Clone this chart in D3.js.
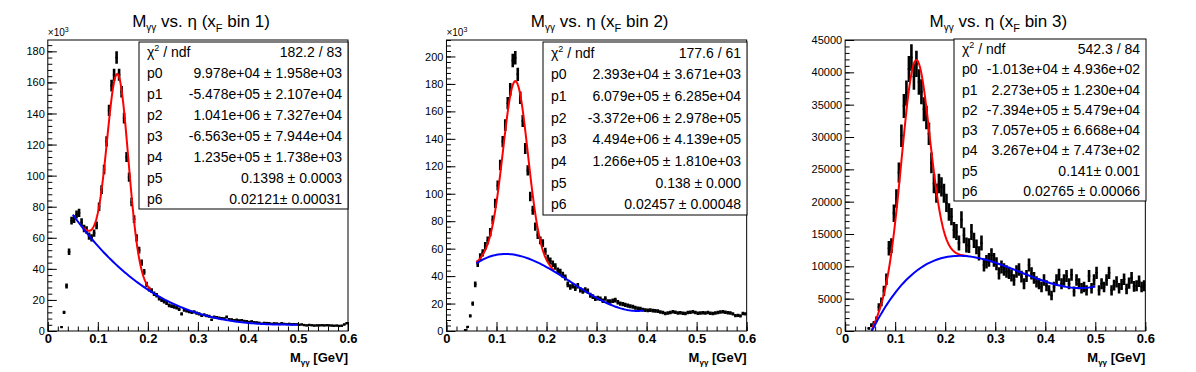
<!DOCTYPE html>
<html>
<head>
<meta charset="utf-8">
<script src="https://cdn.jsdelivr.net/npm/d3@7"></script>
<style>
  body { margin: 0; background: #fff; }
  svg { display: block; }
  text { font-family: "Liberation Sans", Arial, Helvetica, sans-serif; }
</style>
</head>
<body>
<svg id="canvas" width="1196" height="372"></svg>
<script>
// 120 bins of 0.005 GeV between 0 and 0.6
var binWidth = 0.005;
var xRange = [0, 0.6];

// bin contents, panel 1 and 2 in units of 10^3
var counts1 = [
  0, 0, 0, 0, 0, 2.5, 12, 29, 51, 71,
  72, 75, 76, 70, 66, 65, 61, 60, 63, 68,
  80, 91, 104, 122, 142, 158, 165, 176, 165, 154,
  137, 112, 99, 83, 72, 60, 52, 44, 38, 30,
  27, 26, 24, 23, 21, 20, 19, 18, 16.5, 16,
  15.5, 15, 14, 11, 13.5, 13, 12.5, 12, 12.3, 11.5,
  11, 10, 10.5, 9.8, 9.5, 7.3, 9, 8.8, 8.5, 8.2,
  8, 9, 7.5, 7.4, 7, 7.2, 6.8, 6.9, 6.5, 6.3,
  5.8, 6.2, 5.6, 5.5, 5.3, 4.7, 5.2, 5.1, 5.0, 4.6,
  4.9, 4.8, 4.5, 5.0, 4.6, 4.4, 4.6, 4.3, 4.4, 4.3,
  4.0, 4.2, 3.8, 3.6, 3.9, 3.7, 3.5, 3.6, 3.6, 3.7,
  3.6, 3.7, 3.6, 3.5, 3.4, 3.5, 3.3, 3.4, 4.2, 5.0
];
var counts2 = [
  0, 0, 0, 0, 0, 0, 0, 0.5, 3, 11,
  20, 34, 49, 54, 57, 62, 66, 72, 81, 93,
  106, 121, 138, 150, 166, 176, 197, 199, 187, 170,
  153, 133, 117, 98, 88, 76, 70, 66, 64, 58,
  53, 51, 49, 47, 44, 43, 41, 39, 34, 32,
  33, 31, 33, 30, 29, 30, 29, 26, 25, 23.5,
  24, 23.5, 22, 23.7, 21.5, 21.5, 22, 22.5, 21, 20,
  19.5, 19, 18.5, 18, 17.7, 17, 16.5, 16.3, 15.5, 15.2,
  15, 15.2, 14.8, 14.7, 14.5, 13.8, 13.5, 12.8, 13.2, 13.5,
  14, 13.6, 13.2, 13.3, 13, 12.8, 13.4, 13.6, 14, 13.5,
  13, 13.2, 13.3, 13.1, 13.4, 13, 12.8, 13.2, 13.5, 13.8,
  14, 13.6, 13.3, 13.2, 12.5, 11.2, 11.4, 11, 12.8, 12.5
];
var counts3 = [
  0, 0, 0, 0, 0, 0, 0, 0, 0, 400,
  900, 1200, 1800, 3700, 4500, 6200, 8000, 12800, 13200, 18200,
  20500, 24500, 30200, 34800, 36800, 40500, 42300, 39300, 41300, 38500,
  37000, 34300, 33000, 30500, 26000, 22800, 21300, 22800, 22300, 21300,
  19800, 18400, 17700, 15600, 15300, 13600, 17200, 14800, 13300, 13200,
  15300, 14000, 13000, 12000, 13600, 10200, 10700, 11000, 11700, 11000,
  10400, 8900, 9900, 9500, 9200, 9000, 8600, 7900, 9200, 9500,
  8400, 7300, 8500, 10200, 8900, 8200, 7600, 7300, 6800, 7900,
  7000, 6300, 5500, 6800, 7900, 8700, 7300, 7900, 8500, 7300,
  8700, 6100, 7900, 7300, 6600, 6800, 6300, 8500, 6600, 7900,
  9000, 6300, 7300, 6800, 7900, 9000, 6300, 7100, 7600, 6600,
  7200, 8000, 6500, 7400, 8200, 6900, 7000, 7700, 6800, 7000
];

// fit parameters p0..p6 (pol3 background + gaussian p4,p5,p6)
var params1 = [9.978e4, -5.478e5, 1.041e6, -6.563e5, 1.235e5, 0.1398, 0.02121];
var params2 = [2.393e4, 6.079e5, -3.372e6, 4.494e6, 1.266e5, 0.138, 0.02457];
var params3 = [-1.013e4, 2.273e5, -7.394e5, 7.057e5, 3.267e4, 0.141, 0.02765];

// ranges where the total (red) and background (blue) are drawn
var redRange1 = [0.07, 0.205], blueRange1 = [0.05, 0.5];
var redRange2 = [0.06, 0.215], blueRange2 = [0.06, 0.395];
var redRange3 = [0.053, 0.245], blueRange3 = [0.053, 0.5];

// stats box text
var statNames = ["chi2", "p0", "p1", "p2", "p3", "p4", "p5", "p6"];
var stats1 = ["182.2 / 83", "9.978e+04 \u00b1 1.958e+03", "-5.478e+05 \u00b1 2.107e+04", "1.041e+06 \u00b1 7.327e+04",
  "-6.563e+05 \u00b1 7.944e+04", "1.235e+05 \u00b1 1.738e+03", "0.1398 \u00b1 0.0003", "0.02121\u00b1 0.00031"];
var stats2 = ["177.6 / 61", "2.393e+04 \u00b1 3.671e+03", "6.079e+05 \u00b1 6.285e+04", "-3.372e+06 \u00b1 2.978e+05",
  "4.494e+06 \u00b1 4.139e+05", "1.266e+05 \u00b1 1.810e+03", "0.138 \u00b1 0.000", "0.02457 \u00b1 0.00048"];
var stats3 = ["542.3 / 84", "-1.013e+04 \u00b1 4.936e+02", "2.273e+05 \u00b1 1.230e+04", "-7.394e+05 \u00b1 5.479e+04",
  "7.057e+05 \u00b1 6.668e+04", "3.267e+04 \u00b1 7.473e+02", "0.141\u00b1 0.001", "0.02765 \u00b1 0.00066"];

var xTicks = [0, 0.1, 0.2, 0.3, 0.4, 0.5, 0.6];

var svg = d3.select("#canvas");
var padW = 1196 / 3;

var panels = [
  {bin: "1", counts: counts1, unit: 1000, ymax: 187.3, yMajor: 20, yMinor: 4, params: params1,
   red: redRange1, blue: blueRange1, stats: stats1, errK: 0.3, box: [139, 42, 348, 209], exp: true},
  {bin: "2", counts: counts2, unit: 1000, ymax: 212, yMajor: 20, yMinor: 4, params: params2,
   red: redRange2, blue: blueRange2, stats: stats2, errK: 0.35, box: [543, 42, 747, 215], exp: true},
  {bin: "3", counts: counts3, unit: 1, ymax: 45000, yMajor: 5000, yMinor: 1000, params: params3,
   red: redRange3, blue: blueRange3, stats: stats3, errK: 10, box: [954, 39, 1146, 201], exp: false}
];

function bg(p, x) { return p[0] + p[1] * x + p[2] * x * x + p[3] * x * x * x; }
function total(p, x) { return bg(p, x) + p[4] * Math.exp(-0.5 * Math.pow((x - p[5]) / p[6], 2)); }

panels.forEach(function(p, i) {
  var off = i * padW;
  var left = off + 47.8, right = off + 348, top = 40, bottom = 331;

  var x = d3.scaleLinear().domain(xRange).range([left, right]);
  var y = d3.scaleLinear().domain([0, p.ymax]).range([bottom, top]);

  var g = svg.append("g");

  // title
  var title = g.append("text")
    .attr("x", off + 201).attr("y", 27)
    .attr("text-anchor", "middle")
    .attr("font-size", 17);
  title.append("tspan").text("M");
  title.append("tspan").attr("font-size", 10).attr("dy", 4).text("\u03b3\u03b3");
  title.append("tspan").attr("dy", -4).text(" vs. \u03b7 (x");
  title.append("tspan").attr("font-size", 11).attr("dy", 5).text("F");
  title.append("tspan").attr("dy", -5).text(" bin " + p.bin + ")");

  // axes
  var yMinorTicks = d3.range(0, p.ymax + 1e-6, p.yMinor);
  var yMajorTicks = d3.range(0, p.ymax + 1e-6, p.yMajor);
  var xMinorTicks = d3.range(0, 0.6001, 0.02);

  g.append("g")
    .attr("transform", "translate(" + left + ",0)")
    .call(d3.axisLeft(y).tickValues(yMinorTicks).tickSize(-4.5).tickFormat(""))
    .call(function(a) { a.select(".domain").remove(); });
  g.append("g")
    .attr("transform", "translate(" + left + ",0)")
    .call(d3.axisLeft(y).tickValues(yMajorTicks).tickSize(-9).tickPadding(3).tickFormat(d3.format("d")))
    .call(function(a) {
      a.select(".domain").remove();
      a.selectAll("text").attr("font-size", 11).attr("fill", "#000").attr("font-family", "Liberation Sans, Arial, sans-serif");
    });

  g.append("g")
    .attr("transform", "translate(0," + bottom + ")")
    .call(d3.axisBottom(x).tickValues(xMinorTicks).tickSize(-4.5).tickFormat(""))
    .call(function(a) { a.select(".domain").remove(); });
  g.append("g")
    .attr("transform", "translate(0," + bottom + ")")
    .call(d3.axisBottom(x).tickValues(xTicks).tickSize(-9).tickPadding(3)
      .tickFormat(function(d) { return d === 0 ? "0" : d3.format(".1f")(d); }))
    .call(function(a) {
      a.select(".domain").remove();
      a.selectAll("text").attr("font-size", 13).attr("font-weight", "bold").attr("fill", "#000")
        .attr("font-family", "Liberation Sans, Arial, sans-serif");
    });

  g.selectAll(".tick line").attr("stroke", "#000");

  if (p.exp) {
    var ex = g.append("text").attr("x", left).attr("y", 36).attr("font-size", 10);
    ex.append("tspan").text("\u00d710");
    ex.append("tspan").attr("font-size", 7).attr("dy", -4).text("3");
  }

  // x title
  var xt = g.append("text")
    .attr("x", right).attr("y", 362)
    .attr("text-anchor", "end")
    .attr("font-size", 13).attr("font-weight", "bold");
  xt.append("tspan").text("M");
  xt.append("tspan").attr("font-size", 8).attr("dy", 3).text("\u03b3\u03b3");
  xt.append("tspan").attr("dy", -3).text(" [GeV]");

  // clip to frame
  var clipId = "clip" + i;
  svg.append("clipPath").attr("id", clipId)
    .append("rect").attr("x", left).attr("y", top).attr("width", right - left).attr("height", bottom - top);

  var plot = g.append("g").attr("clip-path", "url(#" + clipId + ")");

  // histogram points with error bars
  var pts = p.counts.map(function(v, k) {
    return {lo: k * binWidth, hi: (k + 1) * binWidth, c: (k + 0.5) * binWidth, v: v, e: p.errK * Math.sqrt(v)};
  }).filter(function(d) { return d.v > 0; });

  plot.selectAll("line.err").data(pts).enter().append("line")
    .attr("class", "err")
    .attr("x1", function(d) { return x(d.c); }).attr("x2", function(d) { return x(d.c); })
    .attr("y1", function(d) { return Math.max(y(d.v - d.e), y(d.v) + 1.2); })
    .attr("y2", function(d) { return Math.min(y(d.v + d.e), y(d.v) - 1.2); })
    .attr("stroke", "#000").attr("stroke-width", 2.6);
  plot.selectAll("line.bw").data(pts).enter().append("line")
    .attr("class", "bw")
    .attr("x1", function(d) { return x(d.lo); }).attr("x2", function(d) { return x(d.hi); })
    .attr("y1", function(d) { return y(d.v); }).attr("y2", function(d) { return y(d.v); })
    .attr("stroke", "#000").attr("stroke-width", 1.5);

  // fit curves
  var line = d3.line().x(function(d) { return x(d[0]); }).y(function(d) { return y(d[1] / p.unit); });
  function sample(range, f) {
    return d3.range(101).map(function(k) {
      var xv = range[0] + (range[1] - range[0]) * k / 100;
      return [xv, f(p.params, xv)];
    });
  }
  plot.append("path").datum(sample(p.red, total)).attr("d", line)
    .attr("fill", "none").attr("stroke", "#ff0000").attr("stroke-width", 2);
  plot.append("path").datum(sample(p.blue, bg)).attr("d", line)
    .attr("fill", "none").attr("stroke", "#0000ff").attr("stroke-width", 2);

  // frame
  g.append("rect")
    .attr("x", left).attr("y", top).attr("width", right - left).attr("height", bottom - top)
    .attr("fill", "none").attr("stroke", "#000").attr("stroke-width", 1);

  // stats box
  var b = p.box;
  var sb = g.append("g");
  sb.append("rect")
    .attr("x", b[0]).attr("y", b[1]).attr("width", b[2] - b[0]).attr("height", b[3] - b[1])
    .attr("fill", "#fff").attr("stroke", "#000").attr("stroke-width", 1);
  var rowH = (b[3] - b[1]) / statNames.length;
  statNames.forEach(function(name, r) {
    var yy = b[1] + rowH * (r + 0.5) + 5;
    var lt = sb.append("text").attr("x", b[0] + 8).attr("y", yy).attr("font-size", 14);
    if (name === "chi2") {
      lt.append("tspan").text("\u03c7");
      lt.append("tspan").attr("font-size", 9).attr("dy", -6).text("2");
      lt.append("tspan").attr("dy", 6).text(" / ndf");
    } else {
      lt.text(name);
    }
    sb.append("text").attr("x", b[2] - 6).attr("y", yy)
      .attr("text-anchor", "end").attr("font-size", 14)
      .text(p.stats[r]);
  });
});
</script>
</body>
</html>
